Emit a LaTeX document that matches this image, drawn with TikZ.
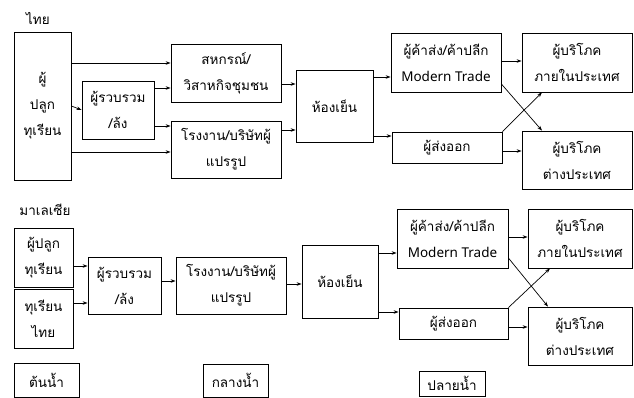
\documentclass[tikz,border=0pt]{standalone}
\usepackage{fontspec}
\newfontfamily\thaifont[Script=Thai]{Loma}
\newfontfamily\latfont{Noto Sans}
\usetikzlibrary{arrows.meta}
\newcommand{\mt}{{\latfont\fontsize{13.5}{26}\selectfont Modern Trade}}
\begin{document}
\begin{tikzpicture}[x=1pt,y=-1pt,
  box/.style={draw,line width=0.8pt,inner sep=0pt,align=center,font=\thaifont\fontsize{13.5}{26}\selectfont},
  lbl/.style={inner sep=0pt,font=\thaifont\fontsize{13.5}{26}\selectfont},
  arr/.style={line width=0.7pt,-{Stealth[length=5pt,width=3.5pt]}}]
\useasboundingbox (0,0) rectangle (634,398);
% ---------- Thailand ----------
\node[lbl] (th) at (38,18) {ไทย};
\node[box,minimum width=57,minimum height=148] (a1) at (42.5,106) {ผู้\\ปลูก\\ทุเรียน};
\node[box,minimum width=72,minimum height=58] (a2) at (118,110) {ผู้รวบรวม\\/ล้ง};
\node[box,minimum width=110,minimum height=58] (a3) at (226,73) {สหกรณ์/\\วิสาหกิจชุมชน};
\node[box,minimum width=110,minimum height=57] (a4) at (226,149.5) {โรงงาน/บริษัทผู้\\แปรรูป};
\node[box,minimum width=77,minimum height=72] (a5) at (334.5,106) {ห้องเย็น};
\node[box,minimum width=110,minimum height=59] (a6) at (446,62.5) {ผู้ค้าส่ง/ค้าปลีก\\\mt};
\node[box,minimum width=110,minimum height=31] (a7) at (447,147.5) {ผู้ส่งออก};
\node[box,minimum width=110,minimum height=59] (a8) at (577,62.5) {ผู้บริโภค\\ภายในประเทศ};
\node[box,minimum width=110,minimum height=58] (a9) at (577,160) {ผู้บริโภค\\ต่างประเทศ};
\draw[arr] (a1.east |- 0,63) -- (a3.west |- 0,63);
\draw[arr] (a1.east |- 0,106) -- (a2.west |- 0,110);
\draw[arr] (a1.east |- 0,152) -- (a4.west |- 0,152);
\draw[arr] (a2.east |- 0,88) -- (a3.west |- 0,88);
\draw[arr] (a2.east |- 0,126) -- (a4.west |- 0,126);
\draw[arr] (a3.east |- 0,84) -- (a5.west |- 0,84);
\draw[arr] (a4.east |- 0,130) -- (a5.west |- 0,130);
\draw[arr] (a5.east |- 0,77) -- (a6.west |- 0,77);
\draw[arr] (a5.east |- 0,136) -- (a7.west |- 0,136);
\draw[arr] (a6.east |- 0,61) -- (a8.west |- 0,61);
\draw[arr] (a6.east |- 0,84) -- (a9.north -| 542,0);
\draw[arr] (a7.north east) -- (a8.south -| 542,0);
\draw[arr] (a7.east |- 0,151) -- (a9.west |- 0,151);
% ---------- Malaysia ----------
\node[lbl] (my) at (45,210) {มาเลเซีย};
\node[box,minimum width=59,minimum height=59] (b1) at (43.5,257.5) {ผู้ปลูก\\ทุเรียน};
\node[box,minimum width=59,minimum height=59] (b2) at (43.5,318.5) {ทุเรียน\\ไทย};
\node[box,minimum width=73,minimum height=57] (b3) at (124.5,285.5) {ผู้รวบรวม\\/ล้ง};
\node[box,minimum width=110,minimum height=57] (b4) at (231,285.5) {โรงงาน/บริษัทผู้\\แปรรูป};
\node[box,minimum width=76,minimum height=73] (b5) at (340,281.5) {ห้องเย็น};
\node[box,minimum width=111,minimum height=59] (b6) at (452.5,238.5) {ผู้ค้าส่ง/ค้าปลีก\\\mt};
\node[box,minimum width=109,minimum height=31] (b7) at (453.5,323.5) {ผู้ส่งออก};
\node[box,minimum width=104,minimum height=59] (b8) at (580,238.5) {ผู้บริโภค\\ภายในประเทศ};
\node[box,minimum width=104,minimum height=58] (b9) at (580,336) {ผู้บริโภค\\ต่างประเทศ};
\draw[arr] (b1.east |- 0,266) -- (b3.west |- 0,266);
\draw[arr] (b2.east |- 0,303) -- (b3.west |- 0,303);
\draw[arr] (b3.east |- 0,281) -- (b4.west |- 0,281);
\draw[arr] (b4.east |- 0,284) -- (b5.west |- 0,284);
\draw[arr] (b5.east |- 0,253) -- (b6.west |- 0,253);
\draw[arr] (b5.east |- 0,312) -- (b7.west |- 0,312);
\draw[arr] (b6.east |- 0,237) -- (b8.west |- 0,237);
\draw[arr] (b6.east |- 0,258) -- (b9.north -| 548,0);
\draw[arr] (b7.north east) -- (b8.south -| 550,0);
\draw[arr] (b7.east |- 0,327) -- (b9.west |- 0,327);
% ---------- stages ----------
\node[box,minimum width=65,minimum height=34] (s1) at (46.5,380) {ต้นน้ำ};
\node[box,minimum width=65,minimum height=33] (s2) at (235.5,380.5) {กลางน้ำ};
\node[box,minimum width=66,minimum height=25] (s3) at (452,383.5) {ปลายน้ำ};
\end{tikzpicture}
\end{document}
